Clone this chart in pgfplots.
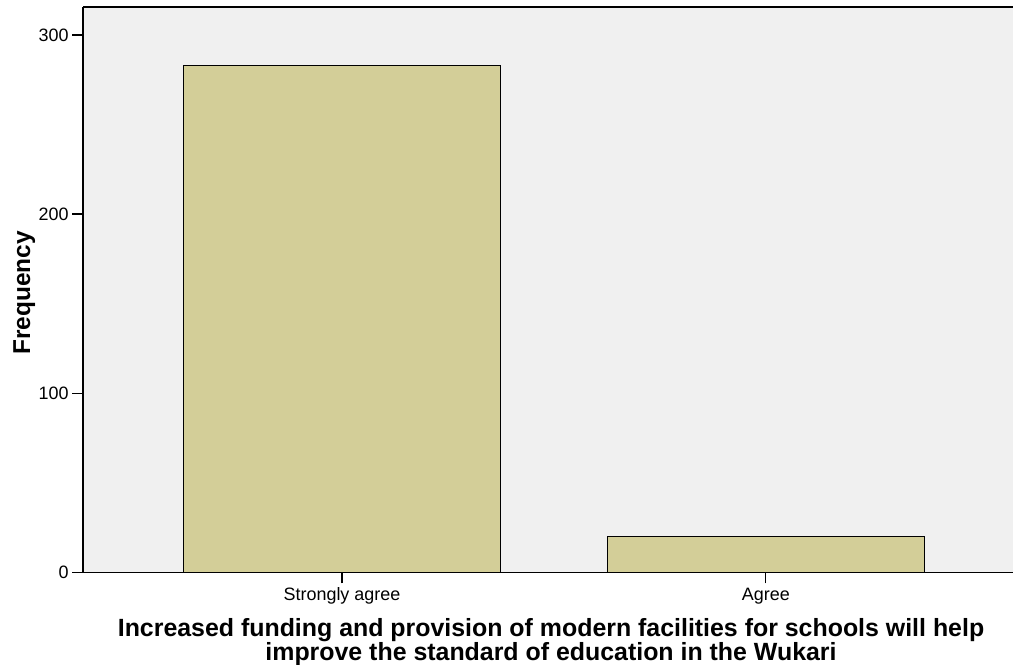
\documentclass[border=0pt]{standalone}
\usepackage{fontspec}
\setmainfont{Liberation Sans}
\usepackage{pgfplots}
\pgfplotsset{compat=1.18}
\definecolor{barfill}{RGB}{211,206,152}
\definecolor{plotbg}{RGB}{240,240,240}
\begin{document}
\begin{tikzpicture}
\path[use as bounding box] (0,0) rectangle (1013bp,665bp);
\begin{axis}[
  at={(83bp,92.7bp)}, anchor=south west,
  scale only axis, width=930bp, height=565.3bp,
  xmin=-0.611, xmax=1.583, ymin=0, ymax=315.6,
  axis lines*=left,
  axis line style={line width=1.2bp, -},
  axis background/.style={fill=plotbg},
  xtick={0,1}, xticklabels={Strongly agree, Agree},
  ytick={0,100,200,300},
  tick align=outside, major tick length=11bp,
  tick style={line width=1.2bp, black},
  tick label style={font=\fontsize{18}{21}\selectfont},
  xticklabel style={yshift=-1bp},
  /pgf/number format/assume math mode=true,
  clip=false,
]
\addplot[ybar, bar width=0.748, fill=barfill, draw=black, line width=1.2bp] coordinates {(0,283) (1,20)};
\draw[line width=1.3bp] (rel axis cs:0,1) -- (rel axis cs:1,1);
\end{axis}
\node[anchor=base, font=\fontsize{25}{24}\selectfont\bfseries, inner sep=0pt] at (551bp,28.3bp) {Increased funding and provision of modern facilities for schools will help};
\node[anchor=base, font=\fontsize{25}{24}\selectfont\bfseries, inner sep=0pt] at (551bp,5bp) {improve the standard of education in the Wukari};
\node[rotate=90, anchor=base, font=\fontsize{24.5}{24}\selectfont\bfseries, inner sep=0pt] at (30bp,372bp) {Frequency};
\end{tikzpicture}
\end{document}
